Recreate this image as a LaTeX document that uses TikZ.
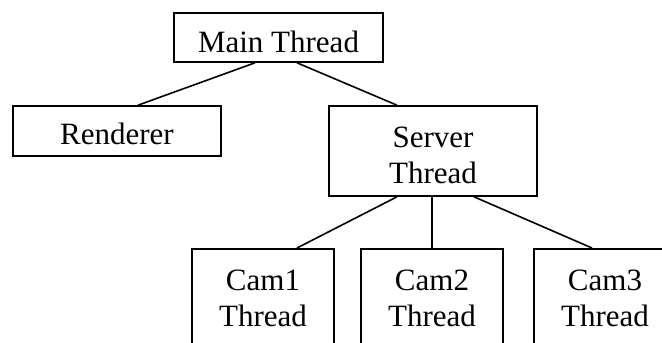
\documentclass[tikz,border=0pt]{standalone}
\usepackage{fontspec}
\setmainfont{Liberation Serif}
\begin{document}
\begin{tikzpicture}[x=1pt,y=-1pt,
  box/.style={draw, line width=1.6pt, inner sep=0pt, align=center,
    text depth=0pt, font=\fontsize{31}{36}\selectfont},
  wide/.style={box, minimum width=208pt},
  cam/.style={box, minimum width=142pt, minimum height=98pt,
    text height=58pt, anchor=north},
  link/.style={line width=1.6pt}]
\useasboundingbox (0,0) rectangle (662,343);
\clip (0,0) rectangle (662,343);

% thread hierarchy
\node[wide, minimum width=209pt, minimum height=49pt, text height=29pt]
  (main) at (278.5,37.5) {Main Thread};
\node[wide, minimum height=50pt, text height=27pt]
  (renderer) at (117,131) {Renderer};
\node[wide, minimum height=90pt, text height=64.7pt]
  (server) at (433,151) {Server\\Thread};
\node[cam] (cam1) at (263,248) {Cam1\\Thread};
\node[cam] (cam2) at (432,248) {Cam2\\Thread};
\node[cam] (cam3) at (605,248) {Cam3\\Thread};

% links between parent and child threads
\draw[link] ([xshift=-23.5pt]main.south) -- ([xshift=21pt]renderer.north);
\draw[link] ([xshift=18.5pt]main.south) -- ([xshift=-36pt]server.north);
\draw[link] ([xshift=-36pt]server.south) -- ([xshift=34pt]cam1.north);
\draw[link] ([xshift=-1pt]server.south) -- (cam2.north);
\draw[link] ([xshift=41pt]server.south) -- ([xshift=-13pt]cam3.north);
\end{tikzpicture}
\end{document}
